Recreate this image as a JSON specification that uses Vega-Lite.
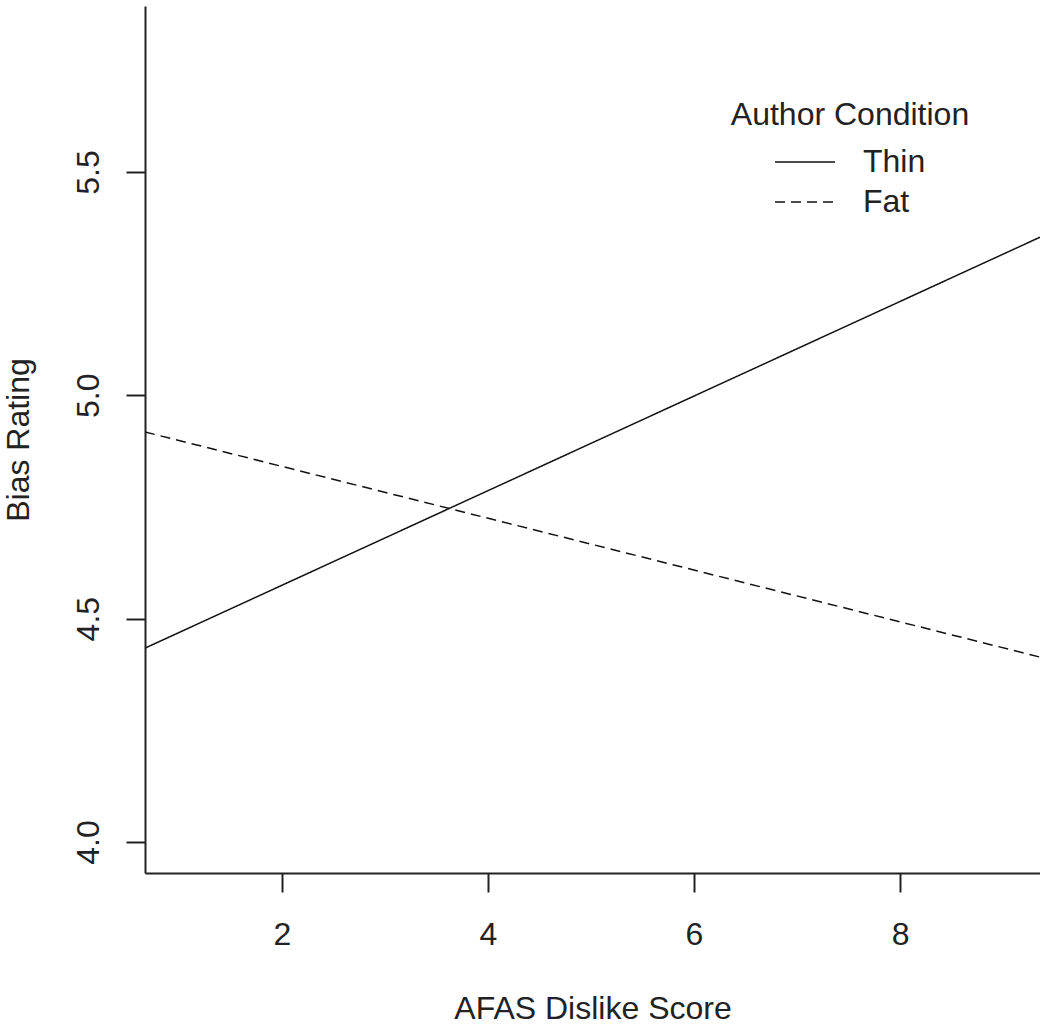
{
  "$schema": "https://vega.github.io/schema/vega-lite/v6.json",
  "autosize": {"type": "none"},
  "width": 895,
  "height": 867,
  "padding": {"left": 145, "top": 6, "right": 0, "bottom": 155},
  "background": "white",
  "config": {
    "view": {"stroke": null},
    "font": "Liberation Sans",
    "axis": {
      "grid": false,
      "domainColor": "#222",
      "domainWidth": 2,
      "tickColor": "#222",
      "tickWidth": 2,
      "tickSize": 19,
      "labelFont": "Liberation Sans",
      "labelFontSize": 32,
      "labelColor": "#222",
      "titleFont": "Liberation Sans",
      "titleFontSize": 32,
      "titleFontWeight": "normal",
      "titleColor": "#222"
    }
  },
  "data": {
    "values": [
      {"score": 0.67, "rating": 4.434, "cond": "Thin"},
      {"score": 9.359, "rating": 5.354, "cond": "Thin"},
      {"score": 0.67, "rating": 4.918, "cond": "Fat"},
      {"score": 9.359, "rating": 4.414, "cond": "Fat"}
    ]
  },
  "mark": {"type": "line", "color": "#111", "strokeWidth": 1.5, "clip": true},
  "encoding": {
    "x": {
      "field": "score", "type": "quantitative",
      "scale": {"domain": [0.67, 9.359], "nice": false, "zero": false},
      "axis": {"values": [2, 4, 6, 8], "title": "AFAS Dislike Score", "labelPadding": 27, "titlePadding": 43, "format": "d"}
    },
    "y": {
      "field": "rating", "type": "quantitative",
      "scale": {"domain": [3.9306, 5.8716], "nice": false, "zero": false},
      "axis": {"values": [4.0, 4.5, 5.0, 5.5], "format": ".1f", "title": "Bias Rating", "labelAngle": -90, "labelAlign": "center", "labelBaseline": "bottom", "labelPadding": 21, "titlePadding": 37}
    },
    "strokeDash": {
      "field": "cond", "type": "nominal",
      "scale": {"domain": ["Thin", "Fat"], "range": [[1, 0], [10, 6]]},
      "legend": {
        "title": "Author Condition",
        "orient": "none",
        "legendX": 586,
        "legendY": 94,
        "titleFontSize": 32,
        "titleFontWeight": "normal",
        "titleColor": "#222",
        "titleFont": "Liberation Sans",
        "titleAnchor": "middle",
        "titleLimit": 1000,
        "titlePadding": 10,
        "labelFontSize": 32,
        "labelColor": "#222",
        "labelFont": "Liberation Sans",
        "labelOffset": 27,
        "symbolType": "stroke",
        "symbolSize": 3600,
        "symbolStrokeWidth": 1.5,
        "symbolStrokeColor": "#111",
        "clipHeight": 40,
        "rowPadding": 0
      }
    }
  }
}
